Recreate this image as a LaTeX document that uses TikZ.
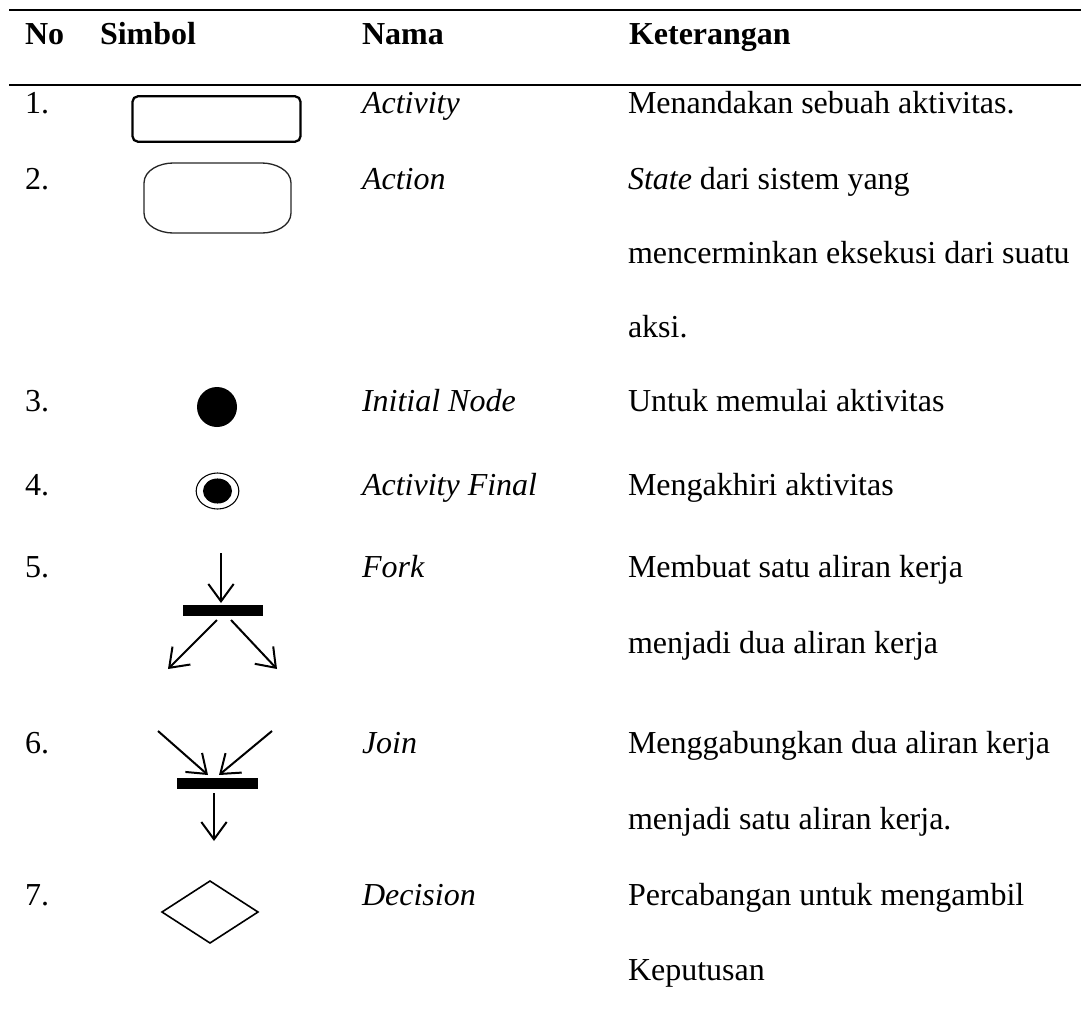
\documentclass[tikz,border=0pt]{standalone}
\usepackage{fontspec}
\setmainfont{Liberation Serif}
\usetikzlibrary{arrows.meta}
\begin{document}
\begin{tikzpicture}[x=0.75pt,y=-0.75pt,
  cell/.style={anchor=base west, inner sep=0pt, outer sep=0pt, font=\fontsize{24}{28}\selectfont},
  head/.style={cell, font=\fontsize{24}{28}\selectfont\bfseries},
  term/.style={cell, font=\fontsize{24}{28}\selectfont\itshape},
  rule/.style={line width=1.6pt},
  flow/.style={line width=1.5pt, -{Straight Barb[length=13pt,width=19pt]}},
  bar/.style={fill=black, draw=none},
]
\useasboundingbox (0,0) rectangle (1081,1018);

% table rules
\draw[rule] (9,10) -- (1081,10);
\draw[rule] (9,85) -- (1081,85);

% header
\node[head] (hNo)   at (25,44)  {No};
\node[head] (hSym)  at (100,44) {Simbol};
\node[head] (hNama) at (362,44) {Nama};
\node[head] (hKet)  at (629,44) {Keterangan};

% 1. Activity
\node[cell] (n1) at (25,113) {1.};
\node[draw, line width=1.7pt, rounded corners=4pt, minimum width=126pt, minimum height=34pt, inner sep=0pt] (activity) at (216.5,119) {};
\node[term] (t1) at (362,113) {Activity};
\node[cell] (d1) at (628,113) {Menandakan sebuah aktivitas.};

% 2. Action
\node[cell] (n2) at (25,189) {2.};
\draw[line width=1pt, black!85]
  (173,163) -- (262,163)
  .. controls (275,163) and (291,170) .. (291,183) -- (291,213)
  .. controls (291,226) and (275,233) .. (262,233) -- (173,233)
  .. controls (160,233) and (144,226) .. (144,213) -- (144,183)
  .. controls (144,170) and (160,163) .. (173,163) -- cycle;
\node[term] (t2) at (362,189) {Action};
\node[cell] (d2a) at (628,189) {\textit{State} dari sistem yang};
\node[cell] (d2b) at (628,263) {mencerminkan eksekusi dari suatu};
\node[cell] (d2c) at (628,337) {aksi.};

% 3. Initial node
\node[cell] (n3) at (25,411) {3.};
\node[circle, fill=black, minimum size=30pt, inner sep=0pt] (initial) at (217,407) {};
\node[term] (t3) at (362,411) {Initial Node};
\node[cell] (d3) at (628,411) {Untuk memulai aktivitas};

% 4. Activity final
\node[cell] (n4) at (25,495) {4.};
\coordinate (final) at (217.5,491);
\draw[line width=0.8pt] (final) ellipse [x radius=16pt, y radius=13.5pt];
\fill (final) ellipse [x radius=10.9pt, y radius=9.4pt];
\node[term] (t4) at (362,495) {Activity Final};
\node[cell] (d4) at (628,495) {Mengakhiri aktivitas};

% 5. Fork
\node[cell] (n5) at (25,577) {5.};
\coordinate (fkIn)  at (221,553);
\coordinate (fkTip) at (221,603);
\coordinate (fkL0)  at (217,620);
\coordinate (fkL1)  at (168,669);
\coordinate (fkR0)  at (231,620);
\coordinate (fkR1)  at (277,669);
\draw[flow] (fkIn) -- (fkTip);
\fill[bar] (183,605) rectangle (263,616);
\draw[flow] (fkL0) -- (fkL1);
\draw[flow] (fkR0) -- (fkR1);
\node[term] (t5) at (362,577) {Fork};
\node[cell] (d5a) at (628,577) {Membuat satu aliran kerja};
\node[cell] (d5b) at (628,653) {menjadi dua aliran kerja};

% 6. Join
\node[cell] (n6) at (25,753) {6.};
\coordinate (jnL0) at (158,731);
\coordinate (jnL1) at (208,775);
\coordinate (jnR0) at (272,731);
\coordinate (jnR1) at (219,775);
\coordinate (jnOut) at (214,793);
\coordinate (jnTip) at (214,841);
\draw[flow] (jnL0) -- (jnL1);
\draw[flow] (jnR0) -- (jnR1);
\fill[bar] (177,778) rectangle (258,789);
\draw[flow] (jnOut) -- (jnTip);
\node[term] (t6) at (362,753) {Join};
\node[cell] (d6a) at (628,753) {Menggabungkan dua aliran kerja};
\node[cell] (d6b) at (628,829) {menjadi satu aliran kerja.};

% 7. Decision
\node[cell] (n7) at (25,905) {7.};
\coordinate (dcT) at (210,881);
\coordinate (dcR) at (258,912);
\coordinate (dcB) at (210,943);
\coordinate (dcL) at (162,912);
\draw[line width=1.2pt, line join=miter] (dcT) -- (dcR) -- (dcB) -- (dcL) -- cycle;
\node[term] (t7) at (362,905) {Decision};
\node[cell] (d7a) at (628,905) {Percabangan untuk mengambil};
\node[cell] (d7b) at (628,980) {Keputusan};
\end{tikzpicture}
\end{document}
